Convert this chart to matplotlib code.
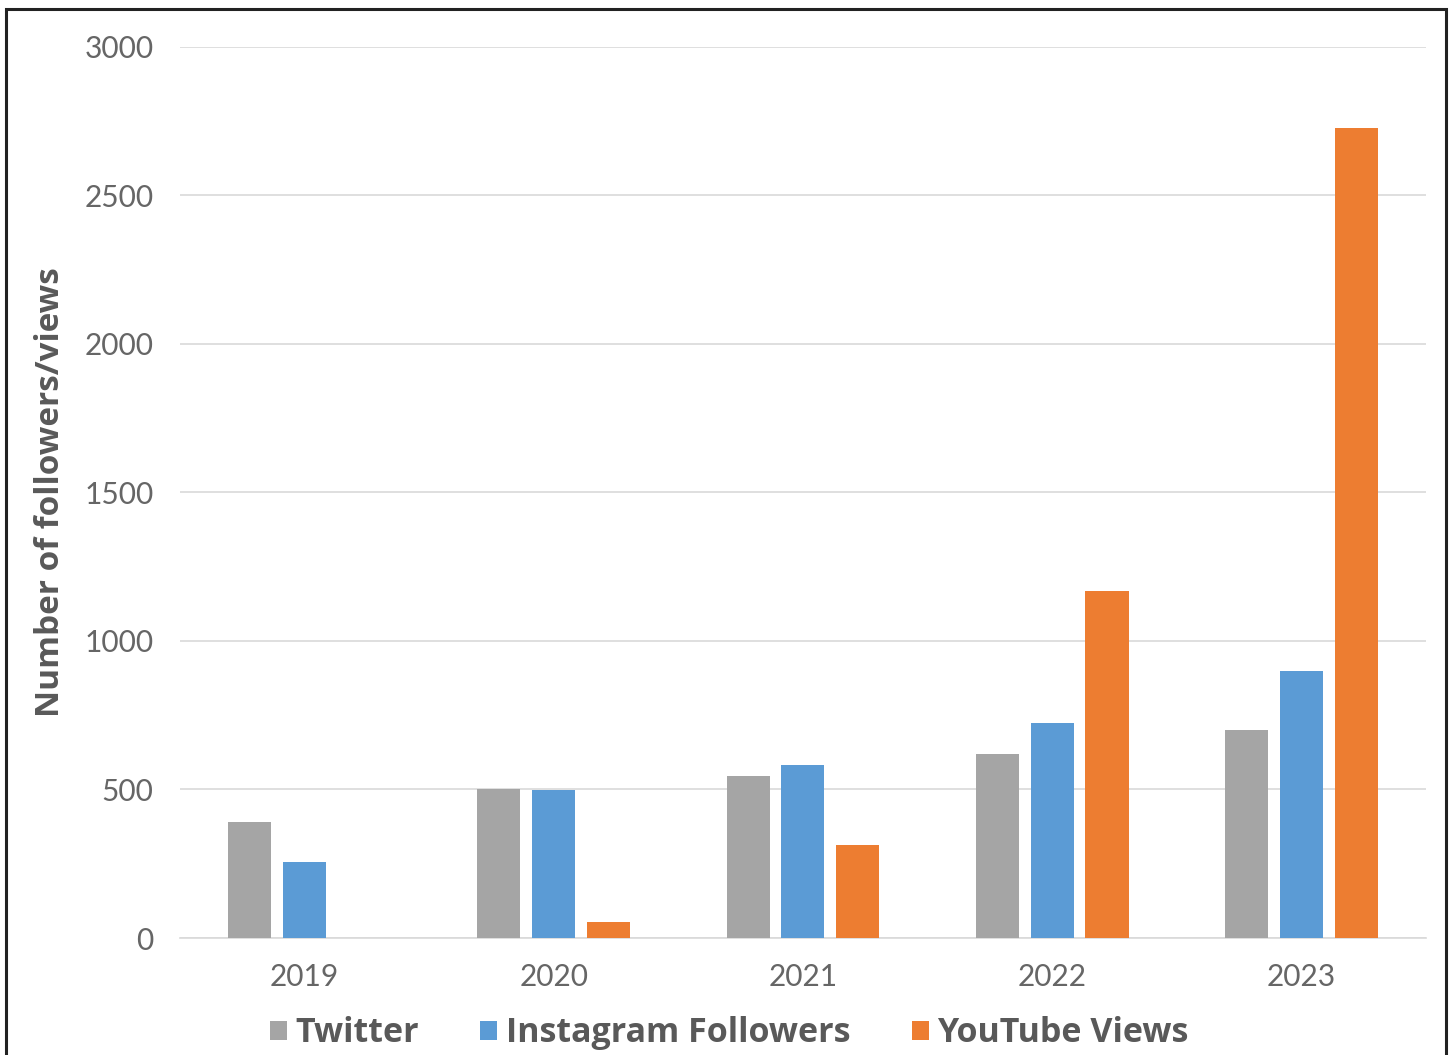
import matplotlib
matplotlib.use("Agg")
import matplotlib.pyplot as plt
from matplotlib.patches import Rectangle
import numpy as np

years = ["2019", "2020", "2021", "2022", "2023"]
twitter = [390, 502, 545, 620, 700]
instagram = [256, 498, 582, 724, 899]
youtube = [0, 54, 313, 1168, 2727]
series_names = ["Twitter", "Instagram Followers", "YouTube Views"]
y_ticks = [0, 500, 1000, 1500, 2000, 2500, 3000]

colors = ["#A5A5A5", "#5B9BD5", "#ED7D31"]
text_color = "#595959"

fig = plt.figure(figsize=(14.5, 10.55), dpi=100)
ax = fig.add_axes([0.1241, 0.1109, 0.8593, 0.8446])

x = np.arange(len(years))
width = 0.173
offsets = [-0.22, 0.0, 0.22]
for vals, off, col, name in zip([twitter, instagram, youtube], offsets, colors, series_names):
    ax.bar(x + off, vals, width=width, color=col, label=name, zorder=3)

ax.set_xlim(-0.5, len(years) - 0.5)
ax.set_ylim(0, 3000)
ax.set_yticks(y_ticks)
ax.set_yticklabels([str(t) for t in y_ticks])
ax.set_xticks(x)
ax.set_xticklabels(years)
ax.grid(axis="y", color="#D9D9D9", linewidth=1.2, zorder=0)
for side in ["top", "right", "left"]:
    ax.spines[side].set_visible(False)
ax.spines["bottom"].set_color("#D9D9D9")
ax.spines["bottom"].set_linewidth(1.2)
ax.tick_params(axis="both", length=0, labelsize=21.5, labelcolor="#666666")
ax.tick_params(axis="y", pad=19)
ax.tick_params(axis="x", pad=18)
for lbl in ax.get_xticklabels() + ax.get_yticklabels():
    lbl.set_fontfamily("Lato")
    lbl.set_fontweight("normal")

ax.set_ylabel("Number of followers/views", fontsize=24, fontweight="bold",
              color=text_color, fontfamily="Open Sans")
# place the axis title in axes-fraction units, left of the tick labels
ax.yaxis.set_label_coords(-0.091, 0.5)

leg = fig.legend(loc="center", bbox_to_anchor=(0.503, 0.0205), ncol=3, frameon=False,
                 prop={"family": "Open Sans", "weight": "bold", "size": 24.5},
                 handlelength=0.5, handleheight=0.5, handletextpad=0.25,
                 columnspacing=1.8)
for t in leg.get_texts():
    t.set_color(text_color)

# outer frame around the figure
fig.patches.append(Rectangle((6 / 1450, -0.02), 1440 / 1450, 1.02 - 9 / 1055,
                             transform=fig.transFigure, fill=False,
                             edgecolor="#222222", linewidth=2.2, zorder=10))

fig.savefig("out.png", dpi=100, facecolor="white")
